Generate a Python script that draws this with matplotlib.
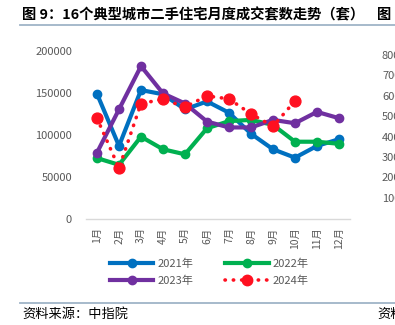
import matplotlib
matplotlib.use('Agg')
import matplotlib.pyplot as plt
from matplotlib.lines import Line2D

plt.rcParams['font.family'] = ['Noto Sans CJK SC', 'DejaVu Sans']

# monthly second-hand home sales, 16 typical cities (units)
months = ['1月', '2月', '3月', '4月', '5月', '6月', '7月', '8月', '9月', '10月', '11月', '12月']
sales_2021 = [149000, 87000, 153500, 148500, 130500, 140000, 126500, 101500, 83000, 73000, 87000, 95000]
sales_2022 = [72500, 64500, 98000, 83000, 77000, 108000, 116500, 118000, 112000, 92000, 92000, 89500]
sales_2023 = [79000, 130500, 182000, 149500, 137500, 116000, 109000, 109000, 118000, 114000, 127500, 120000]
sales_2024 = [120000, 60500, 137500, 142500, 133500, 146500, 143000, 125000, 110500, 140500]
y_ticks = [0, 50000, 100000, 150000, 200000]
# tick labels of the neighbouring chart's axis, cut off at the right edge
side_labels = ['800', '700', '600', '500', '400', '300', '200', '100']

W, H = 395, 325
fig = plt.figure(figsize=(W / 100, H / 100), dpi=100)
ax = fig.add_axes([86 / W, 1 - 219 / H, 264 / W, 168 / H])

x = list(range(len(months)))
series = [
    ('2021年', sales_2021, '#0070C0'),
    ('2022年', sales_2022, '#00B050'),
    ('2023年', sales_2023, '#7030A0'),
]
handles = {}
for name, vals, col in series:
    ax.plot(x[:len(vals)], vals, color=col, lw=3.0, marker='o', ms=6,
            solid_capstyle='round', clip_on=False)
    handles[name] = Line2D([], [], color=col, lw=3.0, marker='o', ms=6, label=name)

red = '#FF1020'
dots = (0, (0.1, 2.2))
ax.plot(x[:len(sales_2024)], sales_2024, color=red, lw=2.6, linestyle=dots,
        dash_capstyle='round', marker='o', ms=7.8, clip_on=False)
handles['2024年'] = Line2D([], [], color=red, lw=2.6, linestyle=dots,
                          dash_capstyle='round', marker='o', ms=7.5, label='2024年')

ax.set_xlim(-0.5, 11.5)
ax.set_ylim(0, 200000)
ax.set_yticks(y_ticks)
ax.set_yticklabels([str(v) for v in y_ticks], color='#595959', fontsize=8)
ax.set_xticks(x)
ax.set_xticklabels(months, rotation=90, color='#595959', fontsize=7.5)
ax.tick_params(length=0, pad=6)
ax.tick_params(axis='y', pad=10)
for s in ['top', 'right', 'left']:
    ax.spines[s].set_visible(False)
ax.spines['bottom'].set_color('#D9D9D9')
ax.spines['bottom'].set_linewidth(1)

# two columns: 2021/2023 on the left, 2022/2024 on the right
order = ['2021年', '2023年', '2022年', '2024年']
fig.legend(handles=[handles[k] for k in order],
           ncol=2, loc='upper left', bbox_to_anchor=(100 / W, 1 - 249 / H),
           frameon=False, fontsize=8, handlelength=3.9, handletextpad=0.35,
           columnspacing=2.9, labelspacing=0.55, labelcolor='#595959')

# title, rules and source line
fig.text(22 / W, 1 - 15 / H, '图 9：16个典型城市二手住宅月度成交套数走势（套）',
         fontsize=10.3, fontweight='bold', va='center', ha='left')
fig.text(377 / W, 1 - 15 / H, '图', fontsize=10.3, fontweight='bold', va='center', ha='left')
fig.add_artist(Line2D([20 / W, 1], [1 - 25 / H, 1 - 25 / H], color='#9FB4C7', lw=1.3))
fig.add_artist(Line2D([20 / W, 1], [1 - 303 / H, 1 - 303 / H], color='#9FB4C7', lw=1.3))
fig.text(22 / W, 1 - 314 / H, '资料来源：中指院', fontsize=9.5, va='center', ha='left')
fig.text(377 / W, 1 - 314 / H, '资料', fontsize=9.5, va='center', ha='left')

for i, lab in enumerate(side_labels):
    fig.text(382 / W, 1 - (56 + i * 20.4) / H, lab, fontsize=8, color='#595959',
             va='center', ha='left')

fig.savefig('out.png', dpi=100)
